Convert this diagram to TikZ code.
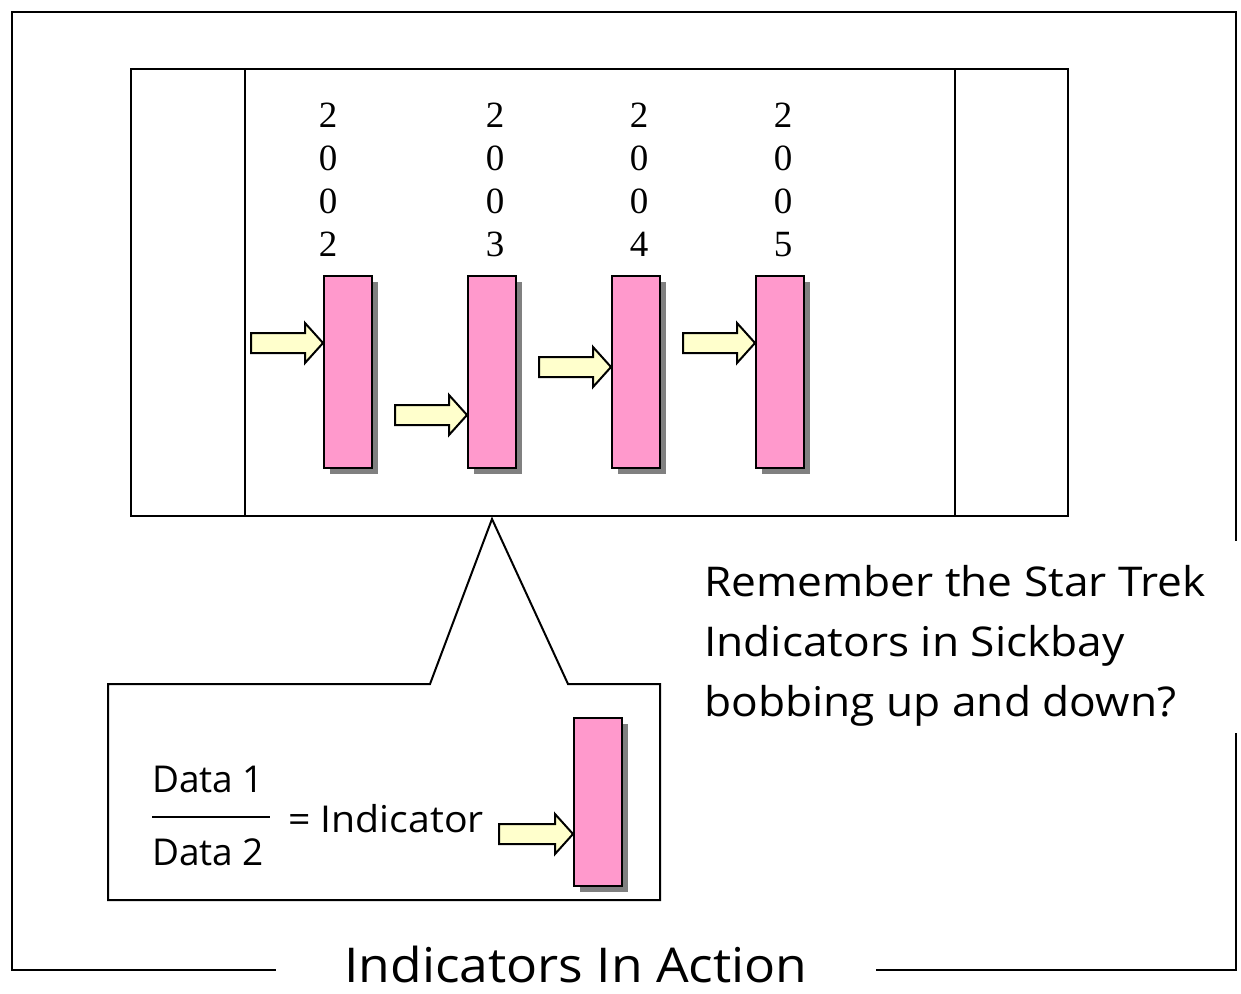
\documentclass[tikz,border=0pt]{standalone}
\usepackage{fontspec}
\setmainfont{Open Sans}
\newfontfamily\numfont{Liberation Serif}
\usetikzlibrary{shadows}
\definecolor{barpink}{HTML}{FF99CC}
\definecolor{arrowyellow}{HTML}{FFFFCC}
\definecolor{shadowgray}{HTML}{808080}
\tikzset{
  frameline/.style={line width=2pt, draw=black},
  bar/.style={draw=black, line width=2pt, fill=barpink, minimum width=48pt, inner sep=0pt,
    drop shadow={shadow xshift=6pt, shadow yshift=-6pt, fill=shadowgray, opacity=1}},
  fatarrow/.style={draw=black, line width=2pt, fill=arrowyellow, line join=miter},
  digit/.style={font=\numfont\fontsize{37}{37}\selectfont, anchor=base, inner sep=0pt},
  hand/.style={inner sep=0pt},
}
\newcommand\fatarr[2]{\draw[fatarrow, shift={(#1)}] (-#2,-10) -- (-18,-10) -- (-18,-20) -- (0,0) -- (-18,20) -- (-18,10) -- (-#2,10) -- cycle;}
\begin{document}
\begin{tikzpicture}[x=1pt, y=-1pt]
\useasboundingbox (0,0) rectangle (1241,993);
% outer frame
\draw[frameline] (12,12) rectangle (1236,970);
% top panel
\draw[frameline] (131,69) rectangle (1068,516);
\draw[frameline] (245,69) -- (245,516);
\draw[frameline] (955,69) -- (955,516);
% year labels
\foreach \x/\d in {328/2, 495/3, 639/4, 783/5}{
  \node[digit] at (\x,127) {2};
  \node[digit] at (\x,170) {0};
  \node[digit] at (\x,213) {0};
  \node[digit] at (\x,256) {\d};
}
% bars
\node[bar, minimum height=192pt] (b1) at (348,372) {};
\node[bar, minimum height=192pt] (b2) at (492,372) {};
\node[bar, minimum height=192pt] (b3) at (636,372) {};
\node[bar, minimum height=192pt] (b4) at (780,372) {};
% arrows
\coordinate (t1) at (b1.west |- 0,343);
\coordinate (t2) at (b2.west |- 0,415);
\coordinate (t3) at (b3.west |- 0,367);
\coordinate (t4) at (b4.west |- 0,343);
\fatarr{t1}{72}
\fatarr{t2}{72}
\fatarr{t3}{72}
\fatarr{t4}{72}
% callout
\draw[frameline, fill=white, line join=miter] (430,684) -- (108,684) -- (108,900) -- (660,900) -- (660,684) -- (568,684) -- (492,519) -- cycle;
\node[bar, minimum height=168pt] (b5) at (598,802) {};
\coordinate (t5) at (b5.west |- 0,834);
\fatarr{t5}{74}
\node[hand, anchor=base west, font=\fontsize{37}{37}\selectfont] (d1) at (152,792) {Data 1};
\node[hand, anchor=base west, font=\fontsize{37}{37}\selectfont] (d2) at (152,865) {Data 2};
\draw[line width=2.5pt] (152,817) -- (270,817);
\node[hand, anchor=base west, font=\fontsize{37}{37}\selectfont] (ind) at (288,832) {\scalebox{1.06}[1]{= Indicator}};
% side text
\fill[white] (700,541) rectangle (1241,733);
\node[hand, anchor=base west, font=\fontsize{41}{41}\selectfont] (rem) at (704,596) {\scalebox{1.08}[1]{Remember the Star Trek}};
\node[hand, anchor=base west, font=\fontsize{41}{41}\selectfont] (rem2) at (704,656) {\scalebox{1.08}[1]{Indicators in Sickbay}};
\node[hand, anchor=base west, font=\fontsize{41}{41}\selectfont] (rem3) at (704,716) {\scalebox{1.08}[1]{bobbing up and down?}};
% title
\fill[white] (276,940) rectangle (876,993);
\node[hand, anchor=base, font=\fontsize{48}{48}\selectfont] (title) at (576,982) {\scalebox{1.075}[1]{Indicators In Action}};
\end{tikzpicture}
\end{document}
